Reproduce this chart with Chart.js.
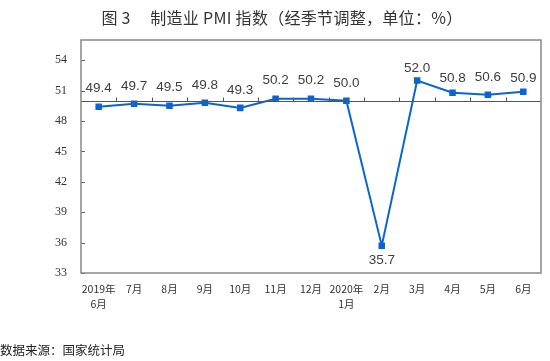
<!DOCTYPE html>
<html>
<head>
<meta charset="utf-8">
<script src="https://cdn.jsdelivr.net/npm/chart.js@4.4.1/dist/chart.umd.min.js"></script>
<style>
  body { margin: 0; background: #fff; }
  #wrap { position: relative; width: 550px; height: 361px; overflow: hidden; }
  #pmiChart { position: absolute; left: 0; top: 0; }
  .title { position: absolute; left: 0; width: 564px; top: 5px; text-align: center; white-space: pre;
           font-family: "Noto Sans CJK SC", sans-serif; font-size: 16px; color: #333; letter-spacing: 0.3px; }
  .source { position: absolute; left: 0; top: 340px; font-family: "Noto Sans CJK SC", sans-serif;
            font-size: 12.5px; color: #222; }
</style>
</head>
<body>
<div id="wrap">
  <canvas id="pmiChart" width="550" height="361"></canvas>
  <div class="title">图 3     制造业 PMI 指数（经季节调整，单位：%）</div>
  <div class="source">数据来源：国家统计局</div>
</div>
<script>
// Data
const months = [['2019年','6月'],'7月','8月','9月','10月','11月','12月',['2020年','1月'],'2月','3月','4月','5月','6月'];
const pmiValues = [49.4, 49.7, 49.5, 49.8, 49.3, 50.2, 50.2, 50.0, 35.7, 52.0, 50.8, 50.6, 50.9];
const yTicks = [33, 36, 39, 42, 45, 48, 51, 54];

// label offsets above (negative) / below (positive) the point
const labelOffsets = [-19,-18,-19,-18,-18,-18,-18,-18,15,-12,-14,-17,-13];

// Box, 50 line, small ticks
const framePlugin = {
    id: 'frame',
    afterDraw(chart){
        const ctx = chart.ctx;
        const a = chart.chartArea;
        const y = chart.scales.y;
        ctx.save();
        // y ticks inside
        ctx.strokeStyle = '#666';
        ctx.lineWidth = 1;
        yTicks.forEach(v => {
            const py = Math.round(y.getPixelForValue(v)) + 0.5;
            ctx.beginPath(); ctx.moveTo(a.left, py); ctx.lineTo(a.left + 4, py); ctx.stroke();
        });
        // 50 line
        const y50 = Math.round(y.getPixelForValue(50)) + 0.5;
        ctx.strokeStyle = '#555';
        ctx.beginPath(); ctx.moveTo(a.left, y50); ctx.lineTo(a.right, y50); ctx.stroke();
        const step = (a.right - a.left) / months.length;
        for (let i = 1; i < months.length; i++) {
            const px = Math.round(a.left + step * i) + 0.5;
            ctx.beginPath(); ctx.moveTo(px, y50); ctx.lineTo(px, y50 - 4); ctx.stroke();
        }
        // border
        ctx.strokeStyle = '#888';
        ctx.lineWidth = 1.5;
        ctx.strokeRect(a.left, a.top, a.right - a.left, a.bottom - a.top);
        ctx.restore();
    }
};

// value labels
const labelPlugin = {
    id: 'valueLabels',
    afterDatasetsDraw(chart){
        const ctx = chart.ctx;
        const meta = chart.getDatasetMeta(0);
        ctx.save();
        ctx.font = '13.5px "Liberation Sans", Arial, sans-serif';
        ctx.fillStyle = '#404040';
        ctx.textAlign = 'center';
        ctx.textBaseline = 'middle';
        meta.data.forEach((pt, i) => {
            ctx.fillText(pmiValues[i].toFixed(1), pt.x, pt.y + labelOffsets[i]);
        });
        ctx.restore();
    }
};

new Chart(document.getElementById('pmiChart'), {
    type: 'line',
    data: {
        labels: months,
        datasets: [{
            data: pmiValues,
            borderColor: '#0a64d2',
            backgroundColor: '#0a64d2',
            borderWidth: 2,
            pointStyle: 'rect',
            pointRadius: 3.2,
            tension: 0
        }]
    },
    options: {
        responsive: false,
        animation: false,
        layout: { padding: { top: 40, right: 9, bottom: 50, left: 0 } },
        plugins: { legend: { display: false }, tooltip: { enabled: false } },
        scales: {
            x: {
                offset: true,
                grid: { display: false, drawTicks: false },
                border: { display: false },
                ticks: {
                    autoSkip: false, maxRotation: 0, padding: 8,
                    color: '#333',
                    font: { family: '"Noto Sans CJK SC", sans-serif', size: 10.5, lineHeight: 1.45 }
                },
                afterFit: s => { s.height = 38; }
            },
            y: {
                min: 33, max: 56,
                grid: { display: false, drawTicks: false },
                border: { display: false },
                ticks: {
                    padding: 14, color: '#333',
                    font: { family: '"Liberation Serif", serif', size: 12 }
                },
                afterBuildTicks: s => { s.ticks = yTicks.map(v => ({ value: v })); },
                afterFit: s => { s.width = 81; }
            }
        }
    },
    plugins: [framePlugin, labelPlugin]
});
</script>
</body>
</html>
